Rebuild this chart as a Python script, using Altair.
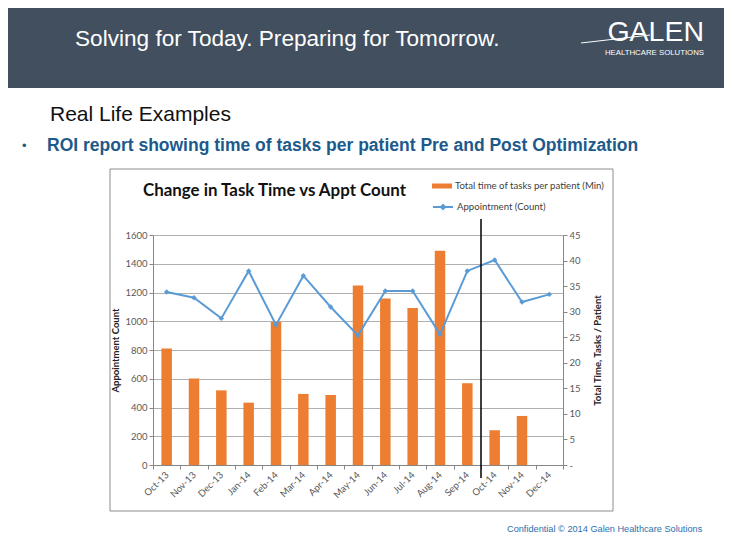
import altair as alt
import pandas as pd

months = ["Oct-13", "Nov-13", "Dec-13", "Jan-14", "Feb-14", "Mar-14", "Apr-14",
          "May-14", "Jun-14", "Jul-14", "Aug-14", "Sep-14", "Oct-14", "Nov-14", "Dec-14"]
task_minutes = [22.8, 16.9, 14.6, 12.2, 28.0, 13.9, 13.7, 35.1, 32.6, 30.7, 41.9, 16.0, 6.8, 9.6, None]
appt_count = [1203, 1164, 1020, 1350, 974, 1317, 1099, 902, 1210, 1210, 909, 1350, 1426, 1134, 1187]
bar_series = "Total time of tasks per patient (Min)"
line_series = "Appointment (Count)"
divider_after = "Sep-14"

left_ticks = [0, 200, 400, 600, 800, 1000, 1200, 1400, 1600]
right_ticks = [0, 5, 10, 15, 20, 25, 30, 35, 40, 45]

df = pd.DataFrame({
    "month": months,
    "minutes": task_minutes,
    "count": appt_count,
    "bar_name": [bar_series] * len(months),
    "line_name": [line_series] * len(months),
})

ORANGE = "#ed7d31"
BLUE = "#5b9bd5"
LABEL_FONT = "Lato"
GRAY = "#595959"

x_axis = alt.Axis(title=None, labelAngle=-45, labelAlign="right", labelBaseline="middle",
                  labelFont=LABEL_FONT, labelFontSize=9.5, labelColor=GRAY, labelPadding=4,
                  tickBand="extent", tickColor="#868686", tickSize=4, domainColor="#868686",
                  grid=False)
x_scale = alt.Scale(domain=months, paddingInner=0, paddingOuter=0)


def one():
    return alt.Data(values=[{}])


def txt(s, x, y, size, color, weight="normal", font="Liberation Sans", align="left",
        baseline="middle"):
    return alt.Chart(one()).mark_text(text=s, fontSize=size, color=color, fontWeight=weight,
                                      font=font, align=align, baseline=baseline).encode(
        x=alt.value(x), y=alt.value(y))


banner = alt.Chart(one()).mark_rect(color="#414f5e").encode(
    x=alt.value(-145), x2=alt.value(571), y=alt.value(-227), y2=alt.value(-147))
swoosh = alt.Chart(one()).mark_rule(color="white", strokeWidth=1).encode(
    x=alt.value(428), x2=alt.value(497), y=alt.value(-192), y2=alt.value(-200))
box = alt.Chart(one()).mark_rect(fill="transparent", stroke="#8c8c8c", strokeWidth=1).encode(
    x=alt.value(-43), x2=alt.value(460), y=alt.value(-66), y2=alt.value(276))

header = txt("Solving for Today. Preparing for Tomorrow.", -78, -196, 22.6, "white")
galen = txt("GALEN", 551, -194, 28.5, "white", weight=300, align="right", baseline="alphabetic")
galen_sub = txt("HEALTHCARE SOLUTIONS", 551, -182, 7.8, "white", align="right")
section = txt("Real Life Examples", -103, -120, 21, "#111111")
bullet = txt("•", -131, -89, 13, "#1d5a8c")
bullet_text = txt("ROI report showing time of tasks per patient Pre and Post Optimization",
                  -106, -89, 17.5, "#1d5a8c", weight="bold")
footer = txt("Confidential © 2014 Galen Healthcare Solutions", 354, 294, 9.2, "#2a6fae")
chart_title = txt("Change in Task Time vs Appt Count", -10, -44, 16.9, "#111111",
                  weight="bold", font=LABEL_FONT)

bars = alt.Chart(df).mark_bar(size=10.5).encode(
    x=alt.X("month:N", sort=months, scale=x_scale, axis=x_axis),
    y=alt.Y("minutes:Q", scale=alt.Scale(domain=[0, 45], nice=False),
            axis=alt.Axis(orient="right", values=right_ticks, grid=False,
                          title="Total Time, Tasks / Patient", titleAngle=270,
                          titleFont=LABEL_FONT, titleFontSize=9.5, titleFontWeight="bold",
                          titleColor="#222222", titlePadding=22,
                          labelExpr="datum.value == 0 ? '-' : datum.label",
                          labelFont=LABEL_FONT, labelFontSize=9.5, labelColor=GRAY,
                          tickColor="#868686", tickSize=4, domainColor="#868686")),
    fill=alt.Fill("bar_name:N", scale=alt.Scale(domain=[bar_series], range=[ORANGE]),
                  legend=alt.Legend(title=None, orient="none", legendX=279, legendY=-59,
                                    symbolType="M-1,-0.25H1V0.25H-1Z", symbolSize=400,
                                    symbolStrokeWidth=0,
                                    labelFont=LABEL_FONT, labelFontSize=9.6, labelColor="#404040",
                                    labelOffset=3)),
)

line = alt.Chart(df).mark_line(strokeWidth=2).encode(
    x=alt.X("month:N", sort=months, scale=x_scale, axis=x_axis),
    y=alt.Y("count:Q", scale=alt.Scale(domain=[0, 1600], nice=False),
            axis=alt.Axis(orient="left", values=left_ticks, format="d", grid=True,
                          gridColor="#b0b0b0", gridWidth=1, title="Appointment Count",
                          titleFont=LABEL_FONT, titleFontSize=9.5, titleFontWeight="bold",
                          titleColor="#222222", titlePadding=4, labelFont=LABEL_FONT,
                          labelFontSize=9.5, labelColor=GRAY, tickColor="#868686",
                          tickSize=4, domainColor="#868686")),
    stroke=alt.Stroke("line_name:N", scale=alt.Scale(domain=[line_series], range=[BLUE]),
                      legend=alt.Legend(title=None, orient="none", legendX=279, legendY=-39,
                                        symbolType="M-1,0H1M-0.2,0L0,-0.2L0.2,0L0,0.2Z",
                                        symbolSize=400, symbolStrokeWidth=2,
                                        labelFont=LABEL_FONT, labelFontSize=9.6,
                                        labelColor="#404040", labelOffset=3)),
)

points = alt.Chart(df).mark_point(shape="diamond", filled=True, size=30, color=BLUE, opacity=1).encode(
    x=alt.X("month:N", sort=months, scale=x_scale, axis=x_axis),
    y=alt.Y("count:Q", scale=alt.Scale(domain=[0, 1600], nice=False), axis=None),
)

divider = alt.Chart(pd.DataFrame({"month": [divider_after]})).mark_rule(
    color="black", strokeWidth=1.5).encode(
    x=alt.X("month:N", sort=months, scale=x_scale, axis=x_axis, bandPosition=1),
    y=alt.value(-16), y2=alt.value(243),
)

chart = alt.layer(
    banner, swoosh, header, galen, galen_sub, section, bullet, bullet_text, footer,
    box, chart_title, bars, line, points, divider
).resolve_scale(y="independent").properties(
    width=410, height=230,
    padding={"left": 145, "top": 227, "right": 161, "bottom": 71},
    autosize=alt.AutoSizeParams(type="none"),
    background="white",
).configure_view(stroke=None)

chart.save("out.html", embed_options={"renderer": "svg", "actions": False})
